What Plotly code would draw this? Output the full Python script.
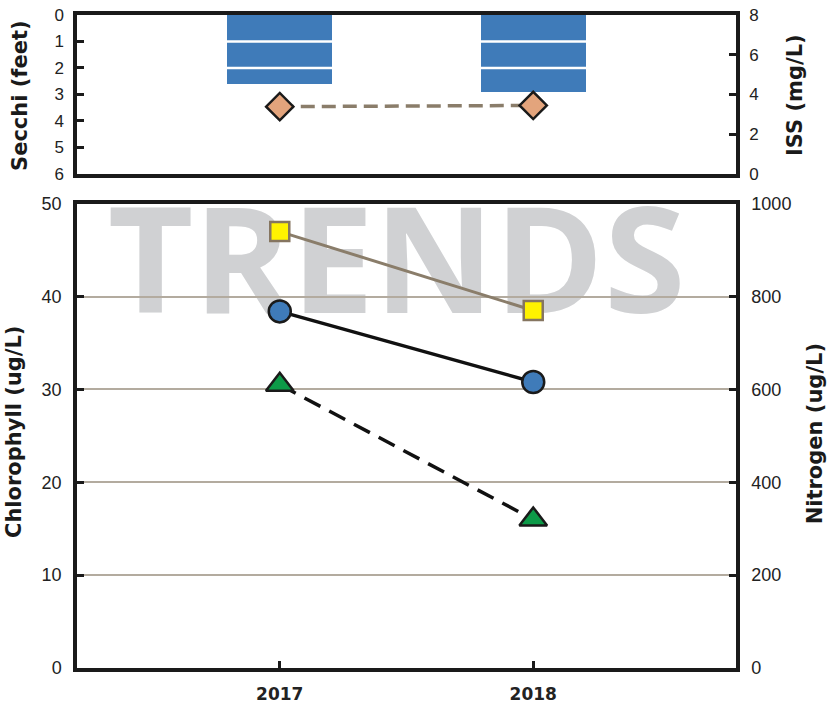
import plotly.graph_objects as go

years = ["2017", "2018"]
secchi_ft = [2.62, 2.93]
iss_mgL = [3.38, 3.44]
chlorophyll = [30.5, 16.0]
phosphorus = [38.4, 30.8]
nitrogen = [940, 770]

BLUE = "#3f7bb9"
AX = dict(showline=True, linecolor="#1a1a1a", linewidth=3.5, zeroline=False,
          automargin=False)

fig = go.Figure()

# --- top panel ---
fig.add_trace(go.Bar(x=years, y=secchi_ft, xaxis="x", yaxis="y", width=0.414,
                     marker=dict(color=BLUE, line=dict(width=0)), showlegend=False))
fig.add_trace(go.Scatter(x=years, y=iss_mgL, xaxis="x", yaxis="y2", mode="lines+markers",
                         line=dict(color="#8a7d6a", width=3.5, dash="14px,7px"),
                         marker=dict(symbol="diamond", size=21, color="#e3a47c",
                                     line=dict(color="#1a1a1a", width=2.5)),
                         showlegend=False))

# --- bottom panel ---
fig.add_trace(go.Scatter(x=years, y=chlorophyll, xaxis="x2", yaxis="y3", mode="lines+markers",
                         line=dict(color="#111111", width=3.5, dash="18px,10px"),
                         marker=dict(symbol="triangle-up", size=24, color="#0d9a48",
                                     line=dict(color="#1a1a1a", width=2.5)),
                         showlegend=False))
fig.add_trace(go.Scatter(x=years, y=phosphorus, xaxis="x2", yaxis="y3", mode="lines+markers",
                         line=dict(color="#111111", width=3.5),
                         marker=dict(symbol="circle", size=22, color=BLUE,
                                     line=dict(color="#1a1a1a", width=2.5)),
                         showlegend=False))
fig.add_trace(go.Scatter(x=years, y=nitrogen, xaxis="x2", yaxis="y4", mode="lines+markers",
                         line=dict(color="#8a7d6a", width=3),
                         marker=dict(symbol="square", size=19, color="#fff200",
                                     line=dict(color="#857560", width=2.5)),
                         showlegend=False))

TICKF = dict(family="Liberation Sans, Arial", size=18, color="#222222")
TICKF_TOP = dict(family="Liberation Sans, Arial", size=17, color="#222222")
TK = dict(ticks="inside", ticklen=7, tickwidth=3, tickcolor="#1a1a1a",
          ticklabeloverflow="allow")

fig.update_layout(
    width=839, height=703,
    margin=dict(l=77, r=103, t=15, b=35),
    paper_bgcolor="white", plot_bgcolor="white",
    bargap=0,
    xaxis=dict(domain=[0, 1], anchor="y", type="category", range=[-0.8, 1.8],
               showticklabels=False, ticks="", mirror=True, showgrid=False, **AX),
    yaxis=dict(domain=[0.757, 1], range=[6, 0], dtick=1, showgrid=False,
               tickfont=TICKF_TOP, ticklabelstandoff=6, **TK, **AX),
    yaxis2=dict(overlaying="y", side="right", anchor="x", range=[0, 8], dtick=2,
                showgrid=False, tickfont=TICKF_TOP, ticklabelstandoff=6, **TK, **AX),
    xaxis2=dict(domain=[0, 1], anchor="y3", type="category", range=[-0.8, 1.8],
                mirror=True, showgrid=False, ticklabelstandoff=8,
                tickfont=dict(family="DejaVu Sans", size=17, color="#222222", weight="bold"),
                **TK, **AX),
    yaxis3=dict(domain=[0, 0.711], range=[0, 50], dtick=10, showgrid=True,
                gridcolor="#b3ab9f", gridwidth=1.5, tickfont=TICKF, ticklabelstandoff=8,
                **TK, **AX),
    yaxis4=dict(overlaying="y3", side="right", anchor="x2", range=[0, 1000], dtick=200,
                showgrid=False, tickfont=TICKF, ticklabelstandoff=8, **TK, **AX),
)

# white separators across the Secchi bars
for yv in [1, 2]:
    fig.add_shape(type="line", xref="x domain", yref="y", x0=0.03, x1=0.97, y0=yv, y1=yv,
                  line=dict(color="white", width=2.5), layer="above")

# watermark
fig.add_shape(type="rect", xref="x2 domain", yref="y3", x0=0.005, x1=0.965, y0=37.0, y1=49.8,
              line=dict(width=0), fillcolor="rgba(0,0,0,0)", layer="below",
              label=dict(text="<b>TRENDS</b>", textposition="middle center",
                         font=dict(family="Open Sans", size=148, color="#d0d1d3")))

TITLEF = dict(family="DejaVu Sans", size=21, color="#1a1a1a")
for txt, x, y in [("<b>Secchi (feet)</b>", -0.0865, 0.8775),
                  ("<b>ISS (mg/L)</b>", 1.0895, 0.8775),
                  ("<b>Chlorophyll (ug/L)</b>", -0.0956, 0.3614),
                  ("<b>Nitrogen (ug/L)</b>", 1.12, 0.358)]:
    fig.add_annotation(text=txt, xref="paper", yref="paper", x=x, y=y, textangle=-90,
                       showarrow=False, font=TITLEF, xanchor="center", yanchor="middle")

fig.write_html("out.html", config={"displayModeBar": False},
               post_script="document.body.style.margin='0';")
